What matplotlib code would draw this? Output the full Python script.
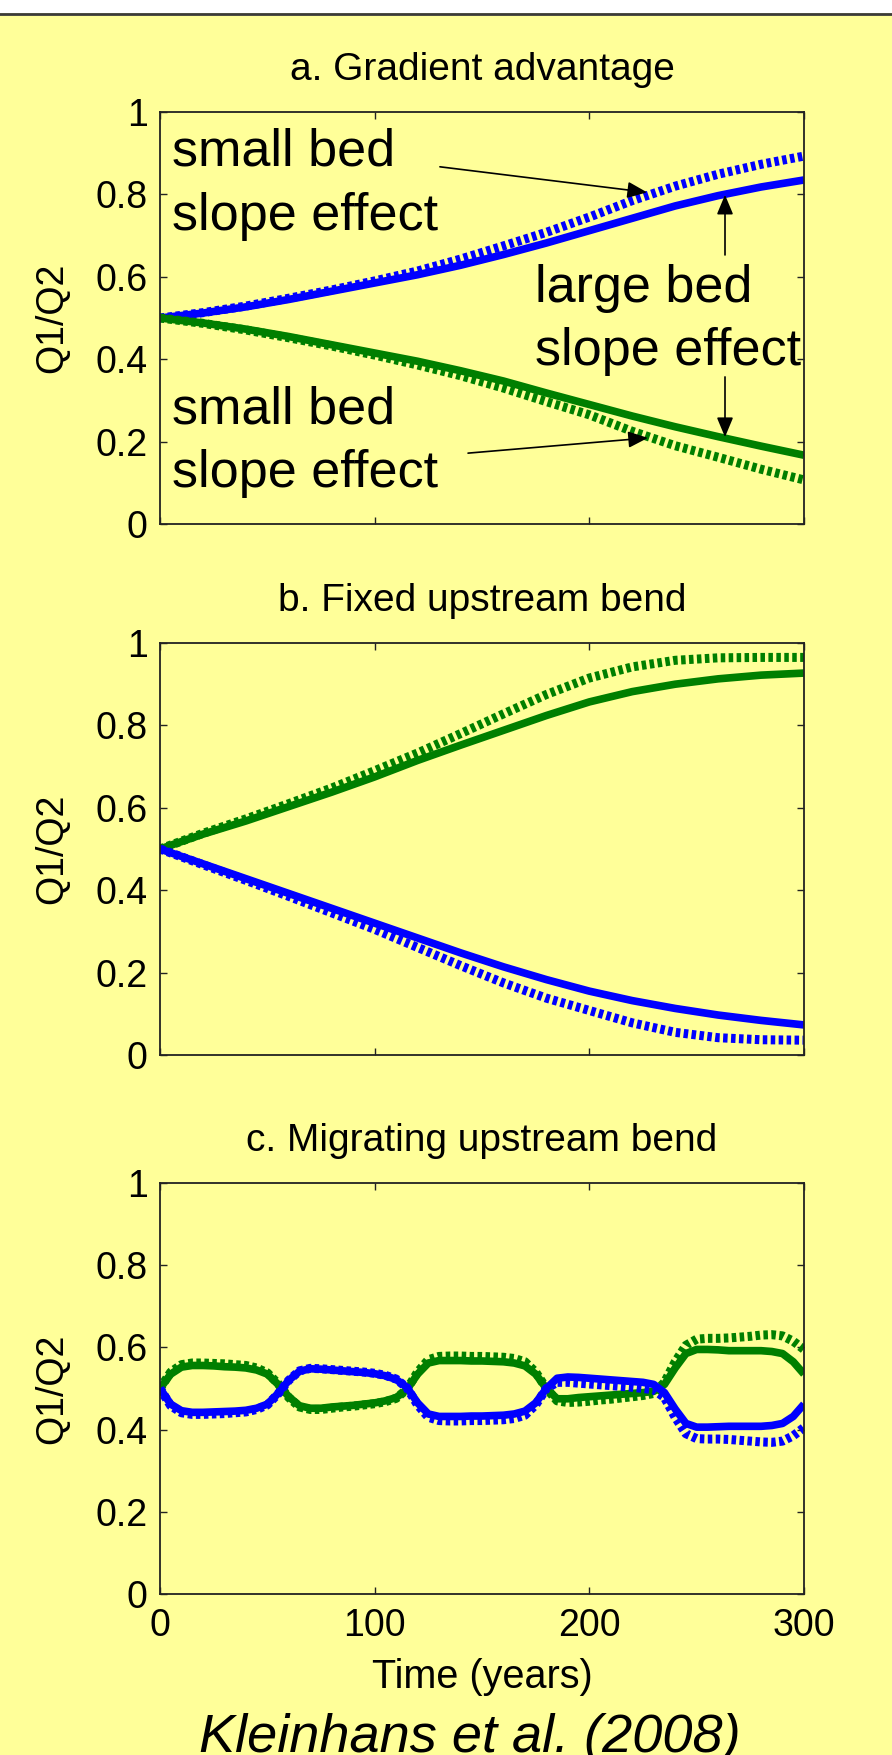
import matplotlib
matplotlib.use('Agg')
import matplotlib.pyplot as plt
from matplotlib.patches import Rectangle
from matplotlib.lines import Line2D

plt.rcParams['font.family'] = ['Liberation Sans', 'DejaVu Sans']

fondo = '#FFFF99'
azul = '#0000FF'
verde = '#007F00'

# tiempo (anios) para paneles a y b
t_ab = [0, 20, 40, 60, 80, 100, 120, 140, 160, 180, 200, 220, 240, 260, 280, 300]

# a. Gradient advantage
a_azul_solid = [0.5, 0.512, 0.527, 0.545, 0.565, 0.585, 0.605, 0.628, 0.654, 0.682, 0.712,
                0.742, 0.772, 0.797, 0.818, 0.835]
a_azul_dot = [0.5, 0.513, 0.529, 0.548, 0.568, 0.59, 0.614, 0.643, 0.675, 0.708, 0.745,
              0.785, 0.82, 0.849, 0.873, 0.893]
a_verde_solid = [0.5, 0.488, 0.473, 0.455, 0.435, 0.415, 0.395, 0.372, 0.347, 0.318, 0.29,
                 0.262, 0.236, 0.212, 0.189, 0.167]
a_verde_dot = [0.5, 0.487, 0.471, 0.452, 0.432, 0.41, 0.386, 0.36, 0.33, 0.297, 0.265,
               0.225, 0.19, 0.162, 0.133, 0.107]

# b. Fixed upstream bend
b_verde_solid = [0.5, 0.536, 0.568, 0.603, 0.638, 0.675, 0.715, 0.752, 0.788, 0.824, 0.857,
                 0.882, 0.9, 0.913, 0.922, 0.927]
b_verde_dot = [0.5, 0.538, 0.573, 0.61, 0.648, 0.69, 0.733, 0.78, 0.828, 0.875, 0.915,
               0.942, 0.958, 0.964, 0.965, 0.965]
b_azul_solid = [0.5, 0.464, 0.428, 0.392, 0.356, 0.32, 0.284, 0.248, 0.214, 0.183, 0.155,
                0.132, 0.113, 0.097, 0.084, 0.073]
b_azul_dot = [0.5, 0.462, 0.424, 0.385, 0.345, 0.305, 0.261, 0.217, 0.175, 0.138, 0.108,
              0.078, 0.055, 0.042, 0.037, 0.036]

# c. Migrating upstream bend (cada 5 anios)
t_c = [0, 5, 10, 15, 20, 25, 30, 35, 40, 45, 50, 55, 60, 65, 70, 75, 80, 85, 90, 95,
       100, 105, 110, 115, 120, 125, 130, 135, 140, 145, 150, 155, 160, 165, 170, 175,
       180, 185, 190, 195, 200, 205, 210, 215, 220, 225, 230, 235, 240, 245, 250, 255,
       260, 265, 270, 275, 280, 285, 290, 295, 300]
c_verde_solid = [0.50, 0.535, 0.552, 0.556, 0.556, 0.555, 0.553, 0.552, 0.550, 0.545, 0.535,
                 0.51, 0.48, 0.458, 0.452, 0.452, 0.455, 0.457, 0.459, 0.462, 0.465, 0.47,
                 0.478, 0.497, 0.535, 0.562, 0.568, 0.568, 0.568, 0.567, 0.567, 0.566, 0.565,
                 0.562, 0.555, 0.535, 0.5, 0.475, 0.475, 0.478, 0.48, 0.482, 0.484, 0.486,
                 0.488, 0.49, 0.493, 0.51, 0.55, 0.585, 0.595, 0.595, 0.594, 0.592, 0.592,
                 0.592, 0.592, 0.59, 0.585, 0.565, 0.535]
c_verde_dot = [0.50, 0.54, 0.558, 0.562, 0.562, 0.561, 0.560, 0.558, 0.556, 0.55, 0.538,
               0.512, 0.478, 0.455, 0.449, 0.449, 0.452, 0.455, 0.457, 0.46, 0.463, 0.468,
               0.476, 0.498, 0.54, 0.57, 0.578, 0.579, 0.579, 0.578, 0.578, 0.577, 0.576,
               0.573, 0.565, 0.54, 0.5, 0.47, 0.466, 0.467, 0.469, 0.472, 0.474, 0.477,
               0.48, 0.483, 0.488, 0.515, 0.565, 0.605, 0.62, 0.622, 0.622, 0.623, 0.625,
               0.627, 0.63, 0.631, 0.628, 0.615, 0.595]
c_azul_solid = [0.50, 0.462, 0.446, 0.442, 0.442, 0.443, 0.444, 0.445, 0.447, 0.452, 0.462,
                0.488, 0.52, 0.542, 0.548, 0.547, 0.545, 0.543, 0.541, 0.539, 0.536, 0.531,
                0.522, 0.503, 0.465, 0.438, 0.432, 0.432, 0.432, 0.433, 0.433, 0.434, 0.435,
                0.438, 0.445, 0.465, 0.5, 0.525, 0.528, 0.527, 0.525, 0.523, 0.521, 0.519,
                0.517, 0.515, 0.51, 0.49, 0.45, 0.415, 0.406, 0.406, 0.407, 0.408, 0.408,
                0.408, 0.408, 0.41, 0.415, 0.432, 0.462]
c_azul_dot = [0.50, 0.458, 0.441, 0.437, 0.437, 0.438, 0.439, 0.441, 0.443, 0.449, 0.46,
              0.487, 0.52, 0.543, 0.549, 0.548, 0.546, 0.544, 0.542, 0.54, 0.537, 0.532,
              0.523, 0.502, 0.46, 0.43, 0.422, 0.421, 0.421, 0.422, 0.422, 0.423, 0.424,
              0.427, 0.435, 0.46, 0.5, 0.515, 0.515, 0.513, 0.511, 0.509, 0.507, 0.505,
              0.503, 0.5, 0.497, 0.478, 0.43, 0.39, 0.378, 0.377, 0.377, 0.376, 0.374,
              0.372, 0.37, 0.369, 0.372, 0.385, 0.405]

x_ticks = [0, 100, 200, 300]
y_ticks = [0, 0.2, 0.4, 0.6, 0.8, 1]
y_labels = ['0', '0.2', '0.4', '0.6', '0.8', '1']

LW = 5.5        # linea continua
LW_DOT = 6.5    # linea punteada (se ve mas gruesa en el original)
PUNTOS = (0.5, 0.38)
FS = 27


def panel(ax, t, lineas, titulo, xlabels=False):
    for y, col, punteada in lineas:
        if punteada:
            ax.plot(t, y, color=col, lw=LW_DOT, dashes=PUNTOS, dash_capstyle='butt')
        else:
            ax.plot(t, y, color=col, lw=LW, solid_capstyle='butt')
    ax.set_facecolor(fondo)
    ax.set_xlim(0, 300)
    ax.set_ylim(0, 1)
    ax.set_xticks(x_ticks)
    ax.set_yticks(y_ticks)
    ax.set_yticklabels(y_labels)
    if not xlabels:
        ax.set_xticklabels([])
    ax.tick_params(direction='in', length=5, width=1, top=True, right=True,
                   labelsize=FS, color='#222222')
    ax.tick_params(axis='x', pad=10)
    ax.tick_params(axis='y', pad=9)
    for s in ax.spines.values():
        s.set_linewidth(1.3)
        s.set_color('#222222')
    ax.set_title(titulo, fontsize=28, pad=23)
    ax.set_ylabel('Q1/Q2', fontsize=FS)
    ax.yaxis.set_label_coords(-0.14, 0.5)


fig = plt.figure(figsize=(8.92, 17.55), dpi=100, facecolor=fondo)

# franja blanca y linea de arriba
fig.patches.append(Rectangle((0, 1 - 13 / 1755), 1, 13 / 1755, transform=fig.transFigure,
                             facecolor='white', edgecolor='none'))
fig.lines.append(Line2D([0, 1], [1 - 14 / 1755] * 2, transform=fig.transFigure,
                        lw=2, color='#3a3a3a'))

izq = 160 / 892
ancho = 644 / 892
ax_a = fig.add_axes([izq, 1 - 524 / 1755, ancho, 412 / 1755])
ax_b = fig.add_axes([izq, 1 - 1055 / 1755, ancho, 412 / 1755])
ax_c = fig.add_axes([izq, 1 - 1594 / 1755, ancho, 411 / 1755])

panel(ax_a, t_ab, [(a_azul_dot, azul, True), (a_azul_solid, azul, False),
                   (a_verde_dot, verde, True), (a_verde_solid, verde, False)],
      'a. Gradient advantage')
panel(ax_b, t_ab, [(b_verde_dot, verde, True), (b_verde_solid, verde, False),
                   (b_azul_dot, azul, True), (b_azul_solid, azul, False)],
      'b. Fixed upstream bend')
panel(ax_c, t_c, [(c_verde_dot, verde, True), (c_verde_solid, verde, False),
                  (c_azul_dot, azul, True), (c_azul_solid, azul, False)],
      'c. Migrating upstream bend', xlabels=True)
ax_c.set_xlabel('Time (years)', fontsize=28.5)
ax_c.xaxis.set_label_coords(0.5, -0.156)

# textos y flechas del panel a
FT = 37.5
ax_a.text(5.6, 0.871, 'small bed', fontsize=FT, va='baseline')
ax_a.text(5.6, 0.714, 'slope effect', fontsize=FT, va='baseline')
ax_a.text(5.6, 0.245, 'small bed', fontsize=FT, va='baseline')
ax_a.text(5.6, 0.090, 'slope effect', fontsize=FT, va='baseline')
ax_a.text(174.7, 0.539, 'large bed', fontsize=FT, va='baseline')
ax_a.text(174.7, 0.386, 'slope effect', fontsize=FT, va='baseline')

flecha = dict(arrowstyle='-|>,head_length=0.6,head_width=0.25', mutation_scale=20,
              lw=1.2, color='k', shrinkA=0, shrinkB=0)
ax_a.annotate('', xy=(226.9, 0.805), xytext=(130.4, 0.867), arrowprops=flecha)
ax_a.annotate('', xy=(227.3, 0.209), xytext=(143.5, 0.172), arrowprops=flecha)
ax_a.annotate('', xy=(263.2, 0.799), xytext=(263.2, 0.653), arrowprops=flecha)
ax_a.annotate('', xy=(263.2, 0.211), xytext=(263.2, 0.357), arrowprops=flecha)

# cita, cortada abajo como en el original
fig.text(470 / 892, 3 / 1755, 'Kleinhans et al. (2008)', fontsize=39, style='italic',
         ha='center', va='baseline')

fig.savefig('out.png', dpi=100, facecolor=fondo)
